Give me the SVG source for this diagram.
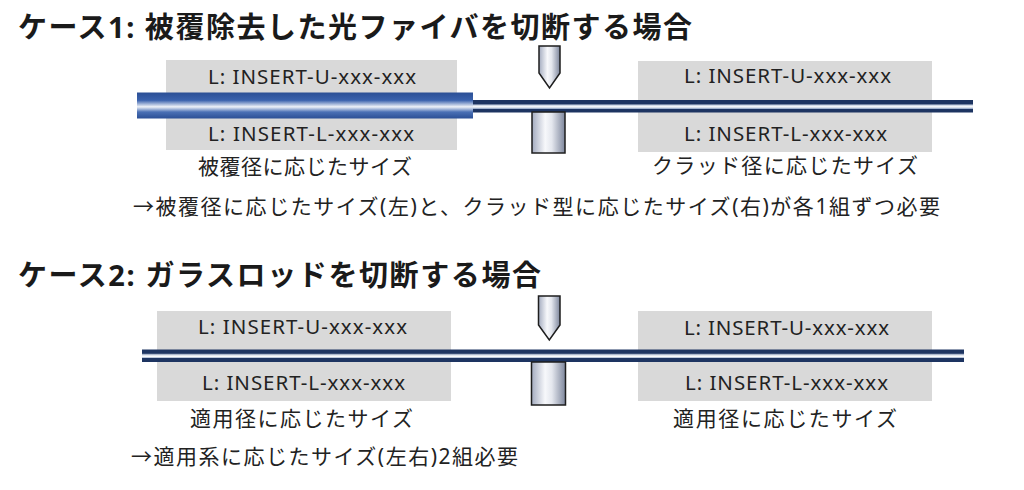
<svg xmlns="http://www.w3.org/2000/svg" width="1024" height="490" viewBox="0 0 1024 490">
<defs>
<linearGradient id="thick" x1="0" y1="0" x2="0" y2="1">
<stop offset="0" stop-color="#2b4f95"/>
<stop offset="0.3" stop-color="#3a62ad"/>
<stop offset="0.55" stop-color="#eef2f8"/>
<stop offset="0.75" stop-color="#4a70b5"/>
<stop offset="1" stop-color="#2b4f95"/>
</linearGradient>
<linearGradient id="thin" x1="0" y1="0" x2="0" y2="1">
<stop offset="0" stop-color="#1d3461"/>
<stop offset="0.3" stop-color="#1d3461"/>
<stop offset="0.42" stop-color="#c9d3e3"/>
<stop offset="0.55" stop-color="#ffffff"/>
<stop offset="0.68" stop-color="#9fb0cc"/>
<stop offset="0.72" stop-color="#1d3461"/>
<stop offset="1" stop-color="#1d3461"/>
</linearGradient>
<linearGradient id="metal" x1="0" y1="0" x2="1" y2="0">
<stop offset="0" stop-color="#a3abbf"/>
<stop offset="0.4" stop-color="#f7f8fb"/>
<stop offset="0.6" stop-color="#e4e7ee"/>
<stop offset="1" stop-color="#7d869c"/>
</linearGradient>
<style>
.box{fill:#d9d9d9}
.tool{fill:url(#metal);stroke:#1e1e1e;stroke-width:1.5;stroke-linejoin:miter}
.title{font-family:"Noto Sans","Noto Sans CJK JP",sans-serif;font-weight:bold;font-size:29px;fill:#1a1a1a}
.lbl{font-family:"Noto Sans","Noto Sans CJK JP",sans-serif;font-size:20.5px;fill:#222}
.jp{font-family:"Noto Sans","Noto Sans CJK JP",sans-serif;font-size:21px;fill:#222}
</style>
</defs>
<rect width="1024" height="490" fill="#ffffff"/>

<g id="case1">
<text class="title" x="18" y="38" textLength="674" lengthAdjust="spacing">ケース1: 被覆除去した光ファイバを切断する場合</text>
<g id="c1-left">
<rect class="box" x="166" y="60" width="291" height="90"/>
<text class="lbl" x="208" y="84" textLength="208" lengthAdjust="spacing">L: INSERT-U-xxx-xxx</text>
<text class="lbl" x="208" y="141" textLength="206" lengthAdjust="spacing">L: INSERT-L-xxx-xxx</text>
<text class="jp" x="198" y="174" textLength="214" lengthAdjust="spacing">被覆径に応じたサイズ</text>
</g>
<g id="c1-right">
<rect class="box" x="638" y="61" width="294" height="91"/>
<text class="lbl" x="684" y="83" textLength="207" lengthAdjust="spacing">L: INSERT-U-xxx-xxx</text>
<text class="lbl" x="684" y="141" textLength="203" lengthAdjust="spacing">L: INSERT-L-xxx-xxx</text>
<text class="jp" x="652" y="173" textLength="266" lengthAdjust="spacing">クラッド径に応じたサイズ</text>
</g>
<g id="c1-fiber">
<rect x="473" y="100" width="500" height="12.5" fill="url(#thin)"/>
<rect x="137" y="92.5" width="336" height="26" fill="url(#thick)"/>
</g>
<g id="c1-blade">
<path class="tool" d="M539,46 H560 V73 L549.5,88 L539,73 Z"/>
<rect class="tool" x="532" y="112" width="33" height="41"/>
</g>
<text id="c1-note" class="jp" x="133" y="214" textLength="807" lengthAdjust="spacing">→被覆径に応じたサイズ(左)と、クラッド型に応じたサイズ(右)が各1組ずつ必要</text>
</g>

<g id="case2">
<text class="title" x="18" y="286" textLength="523" lengthAdjust="spacing">ケース2: ガラスロッドを切断する場合</text>
<g id="c2-left">
<rect class="box" x="157" y="311" width="294" height="90"/>
<text class="lbl" x="198" y="334" textLength="209" lengthAdjust="spacing">L: INSERT-U-xxx-xxx</text>
<text class="lbl" x="202" y="390" textLength="203" lengthAdjust="spacing">L: INSERT-L-xxx-xxx</text>
<text class="jp" x="190" y="426" textLength="223" lengthAdjust="spacing">適用径に応じたサイズ</text>
</g>
<g id="c2-right">
<rect class="box" x="638" y="311" width="294" height="90"/>
<text class="lbl" x="684" y="335" textLength="205" lengthAdjust="spacing">L: INSERT-U-xxx-xxx</text>
<text class="lbl" x="685" y="390" textLength="203" lengthAdjust="spacing">L: INSERT-L-xxx-xxx</text>
<text class="jp" x="673" y="426" textLength="224" lengthAdjust="spacing">適用径に応じたサイズ</text>
</g>
<g id="c2-fiber">
<rect x="142" y="349.5" width="822" height="12.5" fill="url(#thin)"/>
</g>
<g id="c2-blade">
<path class="tool" d="M538.5,296 H560 V325 L549.3,340 L538.5,325 Z"/>
<rect class="tool" x="531.5" y="362" width="34" height="43"/>
</g>
<text id="c2-note" class="jp" x="131" y="464" textLength="387" lengthAdjust="spacing">→適用系に応じたサイズ(左右)2組必要</text>
</g>
</svg>
